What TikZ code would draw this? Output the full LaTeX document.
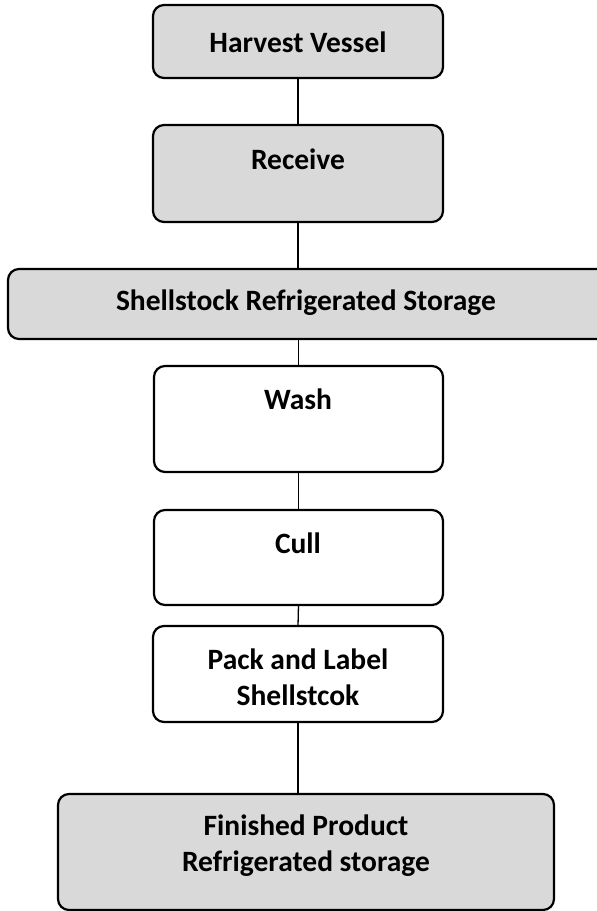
\documentclass[tikz,border=0pt]{standalone}
\usepackage{fontspec}
\setmainfont{Carlito}
\tikzset{
  box/.style={draw=black, line width=2.2pt, rounded corners=11pt, inner sep=0pt, outer sep=0pt},
  shaded/.style={box, fill=black!15},
  plain/.style={box, fill=white},
  lbl/.style={font=\fontsize{29.5}{36}\selectfont\bfseries, align=center, inner sep=0pt},
  conn/.style={line width=1.3pt, draw=black}
}
\begin{document}
\begin{tikzpicture}[x=1pt,y=-1pt]
\useasboundingbox (0,0) rectangle (597,911);
\clip (0,0) rectangle (597,911);
% boxes
\node[shaded, minimum width=290pt, minimum height=73pt] (hv) at (298,41.5) {};
\node[shaded, minimum width=290pt, minimum height=97pt] (rc) at (298,173.5) {};
\node[shaded, minimum width=640pt, minimum height=70pt] (ss) at (328,304) {};
\node[plain, minimum width=289pt, minimum height=106pt] (wa) at (298.5,419) {};
\node[plain, minimum width=289pt, minimum height=95pt] (cu) at (298.5,557.5) {};
\node[plain, minimum width=290pt, minimum height=96pt] (pk) at (298,674) {};
\node[shaded, minimum width=496pt, minimum height=116pt] (fp) at (306,852) {};
% labels
\node[lbl] (thv) at (298,42) {Harvest Vessel};
\node[lbl] (trc) at (298,159) {Receive};
\node[lbl] (tss) at (306,303) {Shellstock Refrigerated Storage};
\node[lbl] (twa) at (298,399) {Wash};
\node[lbl] (tcu) at (298,543) {Cull};
\node[lbl] (tpk) at (298,677) {Pack and Label\\Shellstcok};
\node[lbl] (tfp) at (306,846) {Finished Product\\Refrigerated storage};
% connectors
\draw[conn] (hv.south) -- (rc.north);
\draw[conn] (rc.south) -- (rc.south |- ss.north);
\draw[conn] (wa.north |- ss.south) -- (wa.north);
\draw[conn] (wa.south) -- (cu.north);
\draw[conn] (cu.south) -- (pk.north);
\draw[conn] (pk.south) -- (pk.south |- fp.north);
\end{tikzpicture}
\end{document}
